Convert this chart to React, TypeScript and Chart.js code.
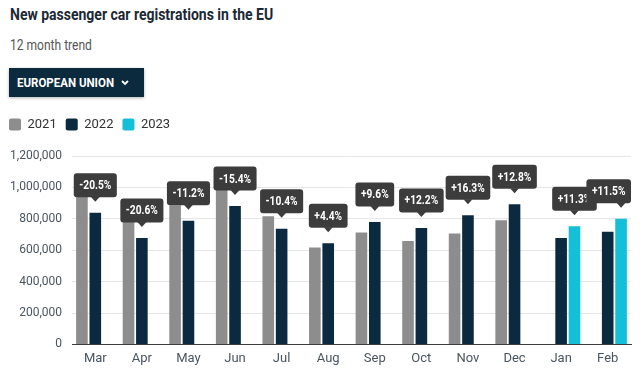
import React, { useEffect, useRef } from "react";
import { Chart, registerables } from "chart.js";

Chart.register(...registerables);

const months = ["Mar", "Apr", "May", "Jun", "Jul", "Aug", "Sep", "Oct", "Nov", "Dec", "Jan", "Feb"];
const regs2021 = [1054000, 854000, 886000, 1041000, 817000, 617000, 712000, 659000, 706000, 791000, null, null];
const regs2022 = [838000, 678000, 787000, 881000, 736000, 645000, 780000, 742000, 823000, 893000, 678000, 717000];
const regs2023 = [null, null, null, null, null, null, null, null, null, null, 753000, 800000];
const changeLabels = ["-20.5%", "-20.6%", "-11.2%", "-15.4%", "-10.4%", "+4.4%", "+9.6%", "+12.2%", "+16.3%", "+12.8%", "+11.3%", "+11.5%"];
const seriesNames = ["2021", "2022", "2023"];
const yMax = 1200000;
const yStep = 200000;

const calloutPlugin = {
  id: "callouts",
  afterDatasetsDraw(chart: any) {
    const ctx = chart.ctx as CanvasRenderingContext2D;
    const area = chart.chartArea;
    ctx.save();
    ctx.font = "bold 12px Roboto";
    const sx = 0.85;
    changeLabels.forEach((txt, i) => {
      const d = regs2023[i] != null ? 2 : 1;
      const el = chart.getDatasetMeta(d).data[i];
      if (!el) return;
      const x = el.x;
      const tipY = el.y - 11;
      const tw = ctx.measureText(txt).width * sx;
      const w = tw + 11;
      const h = 24;
      const bottom = tipY - 4.5;
      let left = x - w / 2;
      if (left + w > area.right) left = area.right - w;
      if (left < area.left) left = area.left;
      ctx.fillStyle = "#3c3c3c";
      ctx.beginPath();
      (ctx as any).roundRect(left, bottom - h, w, h, 3);
      ctx.fill();
      ctx.beginPath();
      ctx.moveTo(x - 4.5, bottom - 0.5);
      ctx.lineTo(x, tipY);
      ctx.lineTo(x + 4.5, bottom - 0.5);
      ctx.closePath();
      ctx.fill();
      ctx.save();
      ctx.translate(left + w / 2, bottom - h / 2 + 1);
      ctx.scale(sx, 1);
      ctx.fillStyle = "#ffffff";
      ctx.textAlign = "center";
      ctx.textBaseline = "middle";
      ctx.fillText(txt, 0, 0);
      ctx.restore();
    });
    ctx.restore();
  },
};

const legendSpacer = {
  id: "legendSpacer",
  beforeInit(chart: any) {
    const orig = chart.legend.fit;
    chart.legend.fit = function () {
      orig.call(this);
      this.height += 15;
    };
  },
};

export default function App() {
  const ref = useRef<HTMLCanvasElement | null>(null);

  useEffect(() => {
    if (!ref.current) return;
    const common = { borderWidth: 0, categoryPercentage: 0.86, barPercentage: 0.87 };
    const chart = new Chart(ref.current, {
      type: "bar",
      data: {
        labels: months,
        datasets: [
          { label: seriesNames[0], data: regs2021, backgroundColor: "#8d8d8d", ...common },
          { label: seriesNames[1], data: regs2022, backgroundColor: "#0c2a3f", ...common },
          { label: seriesNames[2], data: regs2023, backgroundColor: "#14bfd8", ...common },
        ],
      },
      options: {
        animation: false,
        responsive: false,
        events: [],
        layout: { padding: { left: 0, right: 12, top: 1, bottom: 4 } },
        plugins: {
          legend: {
            position: "top",
            align: "start",
            labels: {
              boxWidth: 12,
              boxHeight: 12,
              padding: 9,
              color: "#333333",
              font: { family: "Roboto", size: 13 },
              useBorderRadius: true,
              borderRadius: 2,
            },
          },
          tooltip: { enabled: false },
        },
        scales: {
          x: {
            grid: { display: false, drawTicks: false },
            border: { display: true, color: "#3a3a3a", width: 1 },
            ticks: { color: "#4a5560", font: { family: "Roboto", size: 13 }, padding: 7 },
          },
          y: {
            min: 0,
            max: yMax,
            ticks: {
              stepSize: yStep,
              color: "#4a5560",
              font: { family: "Roboto", size: 12 },
              padding: 10,
              callback: (v: any) => Number(v).toLocaleString("en-US"),
            },
            grid: { color: "#e6e6e6", drawTicks: false },
            border: { display: false },
            afterFit: (s: any) => {
              s.width = 72;
            },
          },
        },
      } as any,
      plugins: [calloutPlugin, legendSpacer],
    });
    return () => chart.destroy();
  }, []);

  return (
    <div
      style={{
        position: "absolute",
        left: 0,
        top: 0,
        width: 643,
        height: 378,
        background: "#ffffff",
        fontFamily: "Roboto, sans-serif",
        overflow: "hidden",
      }}
    >
      <div
        style={{
          position: "absolute",
          left: 10,
          top: 5,
          fontSize: 16,
          lineHeight: "20px",
          fontWeight: 700,
          color: "#1b2935",
          transform: "scaleX(0.875)",
          transformOrigin: "left center",
          whiteSpace: "nowrap",
        }}
      >
        New passenger car registrations in the EU
      </div>
      <div
        style={{
          position: "absolute",
          left: 10,
          top: 35,
          fontSize: 14,
          lineHeight: "20px",
          color: "#555555",
          transform: "scaleX(0.86)",
          transformOrigin: "left center",
          whiteSpace: "nowrap",
        }}
      >
        12 month trend
      </div>
      <div
        style={{
          position: "absolute",
          left: 9,
          top: 68,
          width: 135,
          height: 29,
          background: "#0c2a3e",
          boxShadow: "0 1px 3px rgba(0,0,0,0.3)",
        }}
      >
        <div
          style={{
            position: "absolute",
            left: 8,
            top: 0,
            lineHeight: "29px",
            fontSize: 12.5,
            fontWeight: 700,
            color: "#ffffff",
            transform: "scaleX(0.92)",
            transformOrigin: "left center",
            whiteSpace: "nowrap",
          }}
        >
          EUROPEAN UNION
        </div>
        <svg style={{ position: "absolute", left: 111, top: 11 }} width="10" height="8" viewBox="0 0 10 8">
          <polyline points="2,2 5,5 8,2" fill="none" stroke="#ffffff" strokeWidth="1.8" />
        </svg>
      </div>
      <canvas
        ref={ref}
        width={643}
        height={270}
        style={{ position: "absolute", left: 0, top: 108, width: 643, height: 270 }}
      />
    </div>
  );
}
